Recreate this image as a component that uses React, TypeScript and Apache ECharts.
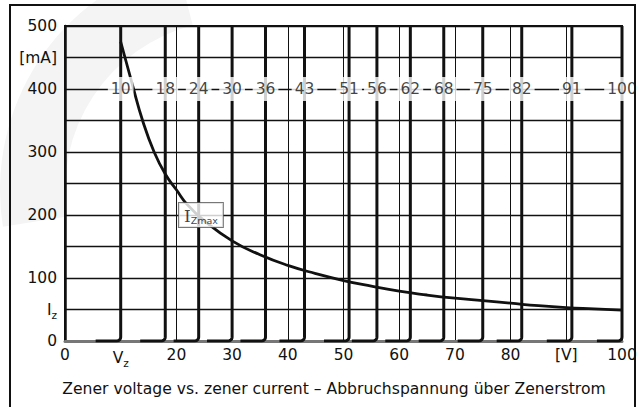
import React, { useEffect, useRef } from "react";
import * as echarts from "echarts";

const zenerVoltages = [10, 18, 24, 30, 36, 43, 51, 56, 62, 68, 75, 82, 91, 100];
const izmaxV = [10, 12, 14, 16, 18, 20, 22, 25, 30, 35, 40, 45, 50, 55, 60, 65, 70, 75, 80, 85, 90, 95, 100];
const izmaxI = [475, 410, 348, 300, 265, 240, 216, 191, 159, 137, 120, 107, 96, 87, 79, 73, 68, 64, 60, 56, 53, 51, 49];
const xTickLabels: Record<number, string> = {
  0: "0", 10: "V{sub|z}", 20: "20", 30: "30", 40: "40", 50: "50",
  60: "60", 70: "70", 80: "80", 90: "[V]", 100: "100",
};
const yTickLabels: Record<number, string> = {
  0: "0", 50: "I{sub|z}", 100: "100", 200: "200", 300: "300", 400: "400", 450: "[mA]", 500: "500",
};
const voltageLabelLevel = 400;
const izmaxLabelPos = [24.4, 200];
const titleText = "Zener voltage vs. zener current \u2013 Abbruchspannung über Zenerstrom";

const FONT = "DejaVu Sans";

function kneeCurve(v: number): number[][] {
  const run = 4.5;
  const rx = 0.72;
  const ry = 6.3;
  const pts: number[][] = [[v - run, 0]];
  for (let a = 0; a <= 90; a += 15) {
    const t = (a * Math.PI) / 180;
    pts.push([v - rx + rx * Math.sin(t), ry * (1 - Math.cos(t))]);
  }
  pts.push([v, 500]);
  return pts;
}

export default function App() {
  const ref = useRef<HTMLDivElement>(null);
  useEffect(() => {
    if (!ref.current) return;
    const chart = echarts.init(ref.current, undefined, { renderer: "svg" });
    const zenerSeries = zenerVoltages.map((v) => ({
      type: "line",
      data: kneeCurve(v),
      symbol: "none",
      lineStyle: { color: "#111", width: 3 },
      z: 3,
    }));
    chart.setOption({
      animation: false,
      backgroundColor: "#fff",
      graphic: [
        {
          type: "sector",
          z: -10,
          silent: true,
          shape: { cx: 235, cy: 190, r: 235, r0: 170, startAngle: Math.PI * 0.95, endAngle: Math.PI * 1.42 },
          style: { fill: "#f4f4f4" },
        },
        {
          type: "rect",
          z: 100,
          silent: true,
          shape: { x: 10, y: 5, width: 625, height: 420 },
          style: { fill: "none", stroke: "#111", lineWidth: 2 },
        },
        {
          type: "text",
          z: 100,
          x: 334,
          y: 389,
          style: {
            text: titleText,
            fill: "#111",
            font: `15.6px "${FONT}"`,
            align: "center",
            verticalAlign: "middle",
          },
        },
      ],
      grid: {
        left: 65, right: 18, top: 26, bottom: 66,
        show: true, borderColor: "#111", borderWidth: 2, backgroundColor: "transparent",
      },
      xAxis: {
        type: "value",
        min: 0, max: 100, interval: 10,
        axisLine: { show: true, onZero: false, lineStyle: { color: "#777", width: 3 } },
        axisTick: { show: false },
        splitLine: { show: true, lineStyle: { color: "#111", width: 1 } },
        axisLabel: {
          margin: 6,
          color: "#111",
          fontFamily: FONT,
          fontSize: 15.5,
          formatter: (val: number) => xTickLabels[val] ?? "",
          rich: {
            sub: { fontFamily: FONT, fontSize: 10.5, color: "#111", padding: [10, 0, 0, 0] },
          },
        },
      },
      yAxis: {
        type: "value",
        min: 0, max: 500, interval: 50,
        axisLine: { show: true, lineStyle: { color: "#111", width: 2.5 } },
        axisTick: { show: false },
        splitLine: { show: true, lineStyle: { color: "#111", width: 1.3 } },
        axisLabel: {
          margin: 8,
          color: "#111",
          fontFamily: FONT,
          fontSize: 15.5,
          formatter: (val: number) => yTickLabels[val] ?? "",
          rich: {
            sub: { fontFamily: FONT, fontSize: 10.5, color: "#111", padding: [10, 0, 0, 0] },
          },
        },
      },
      series: [
        ...zenerSeries,
        {
          type: "line",
          data: izmaxV.map((v, i) => [v, izmaxI[i]]),
          smooth: 0.5,
          symbol: "none",
          lineStyle: { color: "#111", width: 2.8 },
          z: 4,
        },
        {
          type: "scatter",
          symbolSize: 0,
          z: 10,
          data: zenerVoltages.map((v) => [v, voltageLabelLevel]),
          label: {
            show: true,
            position: "inside",
            formatter: (p: any) => String(p.value[0]),
            backgroundColor: "#fff",
            padding: [5, 3, 3, 3],
            color: "#111",
            fontFamily: FONT,
            fontSize: 15.5,
          },
        },
        {
          type: "scatter",
          symbolSize: 0,
          z: 10,
          data: [izmaxLabelPos],
          label: {
            show: true,
            position: "inside",
            formatter: "{i|I}{s|Zmax}",
            backgroundColor: "#fff",
            borderColor: "#555",
            borderWidth: 1,
            padding: [3, 5, 2, 5],
            rich: {
              i: { fontFamily: "DejaVu Serif", fontSize: 17, color: "#111" },
              s: { fontFamily: FONT, fontSize: 9.5, color: "#111", padding: [9, 0, 0, 0] },
            },
          },
        },
      ],
    });
    return () => chart.dispose();
  }, []);
  return <div ref={ref} style={{ width: 640, height: 407, position: "absolute", left: 0, top: 0 }} />;
}
